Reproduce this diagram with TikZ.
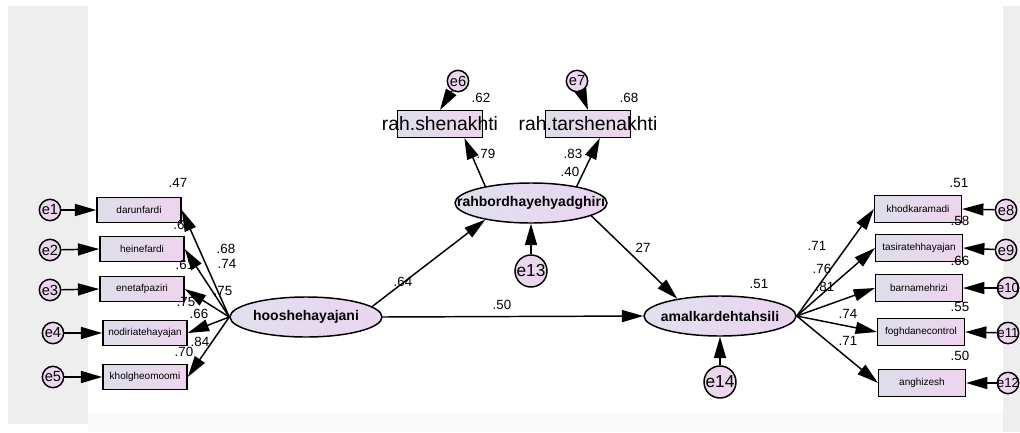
\documentclass[tikz,border=0pt]{standalone}
\usepackage{fontspec}
\setmainfont{Liberation Sans}
\usetikzlibrary{arrows.meta,shapes.geometric}
\definecolor{boxL}{HTML}{DEDEEA}
\definecolor{boxR}{HTML}{EED4EE}
\definecolor{ellL}{HTML}{E0E0EE}
\definecolor{ellR}{HTML}{EBD4F0}
\definecolor{errF}{HTML}{ECD6EE}
\definecolor{bandG}{HTML}{EEEEEE}
\begin{document}
\begin{tikzpicture}[x=0.75pt,y=-0.75pt,
 obs/.style={draw, line width=1.1pt, shade, left color=boxL, right color=boxR,
   minimum width=63pt, minimum height=19pt, inner sep=0pt, font=\fontsize{7.5}{8}\selectfont},
 obsb/.style={obs, minimum width=65pt, minimum height=20pt},
 topb/.style={obs, minimum width=64pt, minimum height=20pt, font=\fontsize{14.5}{16}\selectfont},
 lat/.style={ellipse, draw, line width=1.1pt, shade, left color=ellL, right color=ellR,
   minimum width=114pt, minimum height=30pt, inner sep=0pt, font=\bfseries\fontsize{10.5}{12}\selectfont},
 err/.style={circle, draw, line width=1.1pt, fill=errF, minimum size=16pt, inner sep=0pt,
   font=\fontsize{11}{12}\selectfont},
 errb/.style={err, minimum size=24pt, font=\fontsize{13}{14}\selectfont},
 arr/.style={line width=1.1pt, -{Triangle[length=16pt,width=9pt]}},
 lab/.style={font=\fontsize{10}{11}\selectfont, inner sep=0pt},
]
\useasboundingbox (0,0) rectangle (1020,432);
\clip (0,0) rectangle (1020,432);
% background
\fill[white] (0,0) rectangle (1020,432);
\fill[bandG] (8,6) rectangle (88,424);
\fill[bandG] (1003,6) rectangle (1020,432);
\fill[gray!5] (88,413) rectangle (1003,432);

% latent variables
\node[lat] (H) at (306,317) {\makebox[0pt]{hooshehayajani}};
\node[lat] (R) at (531,203) {\makebox[0pt]{rahbordhayehyadghiri}};
\node[lat] (A) at (720,316) {\makebox[0pt]{amalkardehtahsili}};

% left indicators
\node[obs] (d1) at (139,210) {darunfardi};
\node[obs] (d2) at (142,249) {heinefardi};
\node[obs] (d3) at (142,289) {enetafpaziri};
\node[obs] (d4) at (145,333) {\makebox[0pt]{nodiriatehayajan}};
\node[obs] (d5) at (145,377) {kholgheomoomi};

\node[err] (e1) at (50,210) {\makebox[0pt]{e1}};
\node[err] (e2) at (50,250) {\makebox[0pt]{e2}};
\node[err] (e3) at (50,290) {\makebox[0pt]{e3}};
\node[err] (e4) at (53,333) {\makebox[0pt]{e4}};
\node[err] (e5) at (53,377) {\makebox[0pt]{e5}};

% top indicators
\node[topb] (t1) at (440,124) {\makebox[0pt]{rah.shenakhti}};
\node[topb] (t2) at (588,124) {\makebox[0pt]{rah.tarshenakhti}};
\node[err] (e6) at (458,81) {\makebox[0pt]{e6}};
\node[err] (e7) at (577,81) {\makebox[0pt]{e7}};

% structural residuals
\node[errb] (e13) at (531,271) {\makebox[0pt]{e13}};
\node[errb] (e14) at (720,382) {\makebox[0pt]{e14}};

% right indicators
\node[obsb] (r1) at (918,209) {khodkaramadi};
\node[obsb] (r2) at (919,248) {\makebox[0pt]{tasiratehhayajan}};
\node[obsb] (r3) at (919,288) {barnamehrizi};
\node[obsb] (r4) at (921,332) {\makebox[0pt]{foghdanecontrol}};
\node[obsb] (r5) at (922,383) {anghizesh};

\node[err] (e8) at (1006,210) {\makebox[0pt]{e8}};
\node[err] (e9) at (1006,250) {\makebox[0pt]{e9}};
\node[err,font=\fontsize{10}{11}\selectfont] (e10) at (1008,288) {\makebox[0pt]{e10}};
\node[err,font=\fontsize{10}{11}\selectfont] (e11) at (1008,333) {\makebox[0pt]{e11}};
\node[err,font=\fontsize{10}{11}\selectfont] (e12) at (1008,383) {\makebox[0pt]{e12}};

% error arrows
\foreach \e/\d in {e1/d1,e2/d2,e3/d3,e4/d4,e5/d5}
  \draw[arr] (\e) -- (\d.west);
\foreach \e/\d in {e8/r1,e9/r2,e10/r3,e11/r4,e12/r5}
  \draw[arr] (\e) -- (\d.east);
\draw[arr] (e6) -- (t1.north);
\draw[arr] (e7) -- (t2.north);
\draw[arr] (e13) -- (R.south);
\draw[arr] (e14) -- (A.south);

% loadings
\foreach \d in {d1,d2,d3,d4,d5}
  \draw[arr] (H.west) -- (\d.east);
\foreach \d in {r1,r2,r3,r4,r5}
  \draw[arr] (A.east) -- (\d.west);
\draw[arr] (R.160) -- (t1.-30);
\draw[arr] (R.20) -- (t2.-50);

% structural paths
\draw[arr] (H.9) -- (R.200);
\draw[arr] (H.east) -- (A.west);
\draw[arr] (R.-12) -- (A.158);

% labels left
\node[lab] (l1) at (178,183) {.47};
\node[lab] (l2) at (179,225) {.6};
\node[lab] (l3) at (226,249) {.68};
\node[lab] (l4) at (227,264) {.74};
\node[lab] (l5) at (185,265) {.61};
\node[lab] (l6) at (223,291) {.75};
\node[lab] (l7) at (186,302) {.75};
\node[lab] (l8) at (199,314) {.66};
\node[lab] (l9) at (200,342) {.84};
\node[lab] (l10) at (184,352) {.70};
% labels middle
\node[lab] (m1) at (403,282) {.64};
\node[lab] (m2) at (502,305) {.50};
\node[lab] (m3) at (643,248) {27};
\node[lab] (m4) at (759,284) {.51};
\node[lab] (m5) at (481,98) {.62};
\node[lab] (m6) at (486,154) {.79};
\node[lab] (m7) at (629,98) {.68};
\node[lab] (m8) at (573,154) {.83};
\node[lab] (m9) at (570,172) {.40};
% labels right
\node[lab] (q1) at (959,183) {.51};
\node[lab] (q2) at (960,221) {.58};
\node[lab] (q3) at (960,261) {.66};
\node[lab] (q4) at (960,307) {.55};
\node[lab] (q5) at (960,356) {.50};
\node[lab] (q6) at (817,246) {.71};
\node[lab] (q7) at (822,269) {.76};
\node[lab] (q8) at (825,287) {.81};
\node[lab] (q9) at (848,314) {.74};
\node[lab] (q10) at (848,341) {.71};
\end{tikzpicture}
\end{document}
